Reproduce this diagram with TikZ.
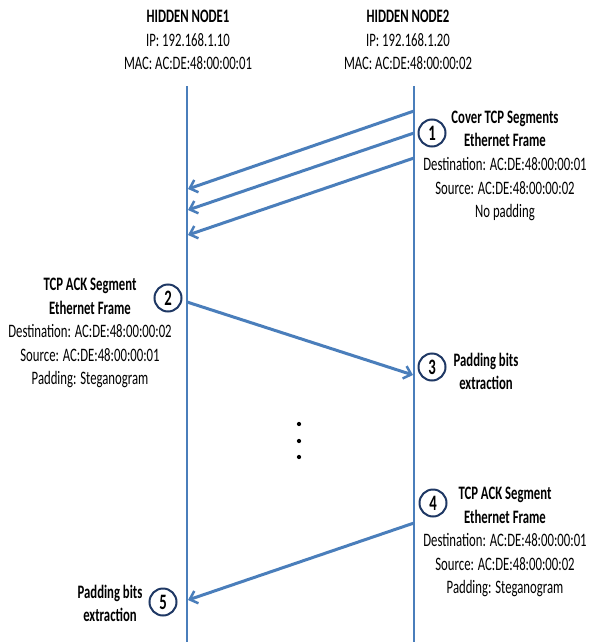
\documentclass[tikz,border=0pt]{standalone}
\usepackage{fontspec}
\setmainfont{Carlito}[FakeStretch=0.67]
\usepackage{tikz}
\usetikzlibrary{shapes,arrows.meta,positioning}
\definecolor{lineblue}{RGB}{74,126,187}
\definecolor{ringblue}{RGB}{31,56,100}
\tikzstyle{lifeline} = [draw, lineblue, line width=1.5pt]
\tikzstyle{msg} = [draw, lineblue, line width=3pt, -{Straight Barb[length=7pt,width=13pt,line width=2.5pt]}]
\tikzstyle{stepnum} = [circle, draw=ringblue, line width=2pt, minimum size=27pt, inner sep=0pt, font=\fontsize{22}{22}\selectfont\bfseries]
\tikzstyle{txt} = [align=center, inner sep=0pt, font=\fontsize{19}{23.6}\selectfont]
\tikzstyle{dotnode} = [circle, fill, inner sep=1.5pt]

\begin{document}
\begin{tikzpicture}[x=1pt, y=-1pt]
				\useasboundingbox (0,0) rectangle (591,642);

				% hosts
				\node [txt] (h1) at (188,40) {\textbf{HIDDEN NODE1}\\IP:\ 192.168.1.10\\MAC: AC:DE:48:00:00:01};
				\node [txt] (h2) at (408,40) {\textbf{HIDDEN NODE2}\\IP:\ 192.168.1.20\\MAC: AC:DE:48:00:00:02};
				\coordinate (l1top) at (187,86);
				\coordinate (l1bot) at (187,642);
				\coordinate (l2top) at (414,86);
				\coordinate (l2bot) at (414,642);
				\path [lifeline] (l1top) -- (l1bot);
				\path [lifeline] (l2top) -- (l2bot);

				% step 1
				\node [stepnum] (c1) at (432,133) {1};
				\node [txt] (t1) at (505,166) {\textbf{Cover TCP Segments}\\\textbf{Ethernet Frame}\\Destination: AC:DE:48:00:00:01\\Source: AC:DE:48:00:00:02\\No padding};
				\coordinate (a1s) at (414,111);
				\coordinate (a1e) at (188,189);
				\coordinate (a2s) at (414,133);
				\coordinate (a2e) at (188,210);
				\coordinate (a3s) at (414,158);
				\coordinate (a3e) at (188,235);
				\path [msg] (a1s) -- (a1e);
				\path [msg] (a2s) -- (a2e);
				\path [msg] (a3s) -- (a3e);

				% step 2
				\node [stepnum] (c2) at (168,298) {2};
				\node [txt] (t2) at (90,333) {\textbf{TCP ACK Segment}\\\textbf{Ethernet Frame}\\Destination: AC:DE:48:00:00:02\\Source: AC:DE:48:00:00:01\\Padding: Steganogram};
				\coordinate (b1s) at (187,302);
				\coordinate (b1e) at (413,375);
				\path [msg] (b1s) -- (b1e);

				% step 3
				\node [stepnum] (c3) at (432,367) {3};
				\node [txt] (t3) at (486,371.5) {\textbf{Padding bits}\\\textbf{extraction}};

				% dots
				\node [dotnode] (d1) at (299,424) {};
				\node [dotnode] (d2) at (299,441) {};
				\node [dotnode] (d3) at (299,457) {};

				% step 4
				\node [stepnum] (c4) at (433,503) {4};
				\node [txt] (t4) at (505,542) {\textbf{TCP ACK Segment}\\\textbf{Ethernet Frame}\\Destination: AC:DE:48:00:00:01\\Source: AC:DE:48:00:00:02\\Padding: Steganogram};
				\coordinate (b2s) at (414,523);
				\coordinate (b2e) at (188,600);
				\path [msg] (b2s) -- (b2e);

				% step 5
				\node [stepnum] (c5) at (163,602) {5};
				\node [txt] (t5) at (110,603.5) {\textbf{Padding bits}\\\textbf{extraction}};
			\end{tikzpicture}
\end{document}
